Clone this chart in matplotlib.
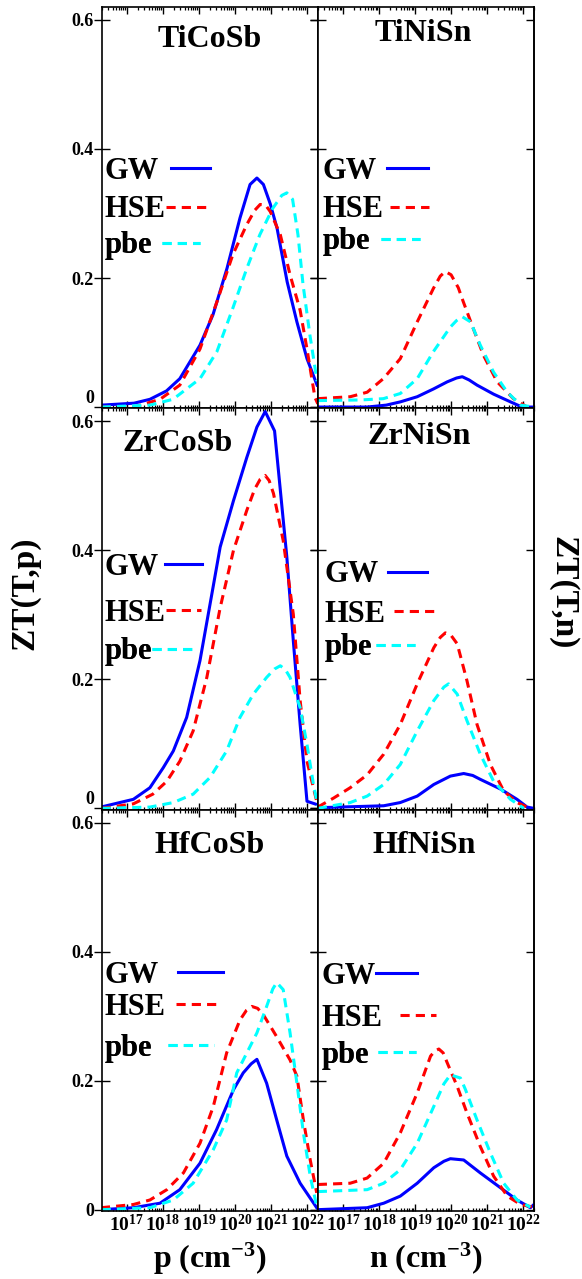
import numpy as np
import matplotlib
matplotlib.use("Agg")
import matplotlib.pyplot as plt
from matplotlib.ticker import FixedLocator, FuncFormatter, LogLocator, NullFormatter

plt.rcParams['font.family'] = ['Liberation Serif', 'DejaVu Serif']
plt.rcParams['font.weight'] = 'bold'
plt.rcParams['mathtext.fontset'] = 'custom'
plt.rcParams['mathtext.rm'] = 'Liberation Serif:bold'
plt.rcParams['mathtext.it'] = 'Liberation Serif:bold'
plt.rcParams['mathtext.bf'] = 'Liberation Serif:bold'

# ---------------- data (x given as log10 of carrier concentration) ----------------
materials = ["TiCoSb", "TiNiSn", "ZrCoSb", "ZrNiSn", "HfCoSb", "HfNiSn"]
methods = ["GW", "HSE", "pbe"]

# TiCoSb (p-type)
ticosb_gw_x = [16.3, 17.2, 17.64, 18.1, 18.47, 19.03, 19.39, 19.78, 20.14, 20.42, 20.61, 20.79, 20.98, 21.17, 21.45, 21.72, 22.0, 22.28]
ticosb_gw_y = [0.003, 0.006, 0.012, 0.025, 0.044, 0.096, 0.143, 0.215, 0.293, 0.345, 0.355, 0.345, 0.315, 0.277, 0.194, 0.132, 0.075, 0.034]
ticosb_hse_x = [16.3, 17.2, 17.92, 18.47, 19.03, 19.5, 19.94, 20.33, 20.55, 20.7, 20.85, 20.98, 21.26, 21.53, 21.81, 22.0, 22.22, 22.3]
ticosb_hse_y = [0.0, 0.0, 0.012, 0.034, 0.09, 0.163, 0.236, 0.283, 0.305, 0.314, 0.313, 0.303, 0.267, 0.205, 0.15, 0.09, 0.015, 0.005]
ticosb_pbe_x = [16.3, 17.64, 18.28, 19.03, 19.5, 19.94, 20.33, 20.69, 21.05, 21.3, 21.44, 21.6, 21.75, 21.89, 22.08, 22.28]
ticosb_pbe_y = [0.0, 0.003, 0.012, 0.044, 0.086, 0.153, 0.215, 0.267, 0.308, 0.328, 0.332, 0.322, 0.267, 0.19, 0.112, 0.04]

# TiNiSn (n-type)
tinisn_gw_x = [16.3, 17.67, 18.2, 18.59, 19.06, 19.51, 19.89, 20.15, 20.31, 20.5, 20.72, 21.18, 21.65, 21.97, 22.3]
tinisn_gw_y = [0.0, 0.0, 0.003, 0.008, 0.016, 0.028, 0.039, 0.045, 0.047, 0.042, 0.034, 0.02, 0.008, 0.0, 0.0]
tinisn_hse_x = [16.3, 17.2, 17.67, 18.12, 18.59, 19.06, 19.51, 19.7, 19.84, 20.0, 20.2, 20.34, 20.58, 20.9, 21.28, 21.73, 22.11, 22.3]
tinisn_hse_y = [0.013, 0.016, 0.023, 0.044, 0.075, 0.132, 0.184, 0.203, 0.21, 0.205, 0.185, 0.163, 0.127, 0.08, 0.039, 0.013, 0.0, 0.0]
tinisn_pbe_x = [16.3, 17.5, 18.12, 18.59, 19.06, 19.51, 19.98, 20.15, 20.31, 20.54, 20.81, 21.18, 21.56, 21.93, 22.3]
tinisn_pbe_y = [0.01, 0.011, 0.013, 0.021, 0.044, 0.086, 0.124, 0.134, 0.14, 0.132, 0.096, 0.054, 0.023, 0.003, 0.0]

# ZrCoSb (p-type)
zrcosb_gw_x = [16.28, 17.18, 17.64, 18.01, 18.29, 18.66, 19.03, 19.4, 19.59, 19.96, 20.33, 20.61, 20.84, 21.1, 21.44, 21.62, 21.81, 22.0, 22.27]
zrcosb_gw_y = [0.002, 0.014, 0.032, 0.063, 0.089, 0.141, 0.229, 0.345, 0.405, 0.477, 0.544, 0.591, 0.615, 0.585, 0.39, 0.26, 0.13, 0.011, 0.006]
zrcosb_hse_x = [16.3, 17.18, 17.72, 18.11, 18.47, 18.84, 19.22, 19.59, 19.96, 20.33, 20.55, 20.7, 20.84, 20.95, 21.07, 21.34, 21.62, 21.81, 22.0, 22.27]
zrcosb_hse_y = [0.0, 0.007, 0.022, 0.042, 0.073, 0.12, 0.203, 0.311, 0.4, 0.462, 0.495, 0.51, 0.516, 0.508, 0.488, 0.415, 0.301, 0.167, 0.073, 0.011]
zrcosb_pbe_x = [16.3, 17.64, 18.29, 18.84, 19.31, 19.77, 20.14, 20.51, 20.88, 21.1, 21.26, 21.4, 21.53, 21.81, 22.0, 22.18, 22.3]
zrcosb_pbe_y = [0.0, 0.002, 0.009, 0.022, 0.048, 0.089, 0.141, 0.177, 0.203, 0.216, 0.221, 0.215, 0.203, 0.156, 0.099, 0.037, 0.004]

# ZrNiSn (n-type)
zrnisn_gw_x = [16.3, 18.13, 18.59, 19.06, 19.52, 19.98, 20.35, 20.6, 20.81, 21.37, 21.83, 22.11, 22.3]
zrnisn_gw_y = [0.001, 0.004, 0.009, 0.019, 0.037, 0.05, 0.054, 0.051, 0.045, 0.03, 0.014, 0.002, 0.0]
zrnisn_hse_x = [16.3, 16.74, 17.2, 17.67, 18.13, 18.59, 19.06, 19.52, 19.7, 19.84, 20.0, 20.17, 20.44, 20.72, 21.09, 21.46, 21.83, 22.11]
zrnisn_hse_y = [0.002, 0.016, 0.032, 0.052, 0.084, 0.13, 0.193, 0.249, 0.265, 0.272, 0.268, 0.255, 0.198, 0.13, 0.068, 0.027, 0.009, 0.002]
zrnisn_pbe_x = [16.3, 17.2, 17.67, 18.13, 18.59, 19.06, 19.52, 19.8, 19.93, 20.17, 20.44, 20.81, 21.18, 21.65, 22.02]
zrnisn_pbe_y = [0.0, 0.009, 0.019, 0.037, 0.068, 0.12, 0.167, 0.188, 0.193, 0.177, 0.136, 0.084, 0.042, 0.014, 0.0]

# HfCoSb (p-type)
hfcosb_gw_x = [16.28, 17.18, 17.92, 18.47, 19.03, 19.49, 19.96, 20.23, 20.45, 20.61, 20.88, 21.16, 21.44, 21.81, 22.27]
hfcosb_gw_y = [0.0, 0.003, 0.01, 0.031, 0.072, 0.124, 0.186, 0.212, 0.226, 0.233, 0.196, 0.139, 0.083, 0.041, 0.003]
hfcosb_hse_x = [16.28, 17.18, 17.64, 18.11, 18.57, 19.03, 19.4, 19.77, 20.14, 20.32, 20.47, 20.63, 20.79, 21.16, 21.53, 21.72, 21.9, 22.09, 22.27]
hfcosb_hse_y = [0.003, 0.008, 0.015, 0.031, 0.057, 0.103, 0.16, 0.243, 0.294, 0.309, 0.315, 0.312, 0.302, 0.268, 0.232, 0.207, 0.139, 0.077, 0.026]
hfcosb_pbe_x = [16.3, 17.64, 18.29, 18.84, 19.4, 19.77, 20.05, 20.33, 20.61, 20.88, 21.05, 21.16, 21.34, 21.53, 21.72, 21.9, 22.09, 22.27]
hfcosb_pbe_y = [0.0, 0.003, 0.015, 0.041, 0.093, 0.139, 0.212, 0.243, 0.274, 0.315, 0.342, 0.352, 0.341, 0.274, 0.196, 0.119, 0.052, 0.005]

# HfNiSn (n-type)
hfnisn_gw_x = [16.3, 17.67, 18.13, 18.59, 19.06, 19.52, 19.8, 19.98, 20.35, 20.81, 21.37, 21.83, 22.2, 22.3]
hfnisn_gw_y = [0.0, 0.003, 0.01, 0.021, 0.041, 0.065, 0.075, 0.079, 0.077, 0.057, 0.034, 0.015, 0.003, 0.008]
hfnisn_hse_x = [16.3, 17.2, 17.67, 18.13, 18.59, 19.06, 19.43, 19.55, 19.66, 19.78, 19.89, 20.17, 20.44, 20.81, 21.18, 21.56, 21.93, 22.28]
hfnisn_hse_y = [0.039, 0.041, 0.049, 0.072, 0.119, 0.181, 0.238, 0.246, 0.249, 0.243, 0.228, 0.191, 0.15, 0.098, 0.052, 0.021, 0.008, 0.004]
hfnisn_pbe_x = [16.3, 17.67, 18.13, 18.59, 19.06, 19.52, 19.8, 19.98, 20.26, 20.4, 20.72, 21.09, 21.46, 21.83, 22.2]
hfnisn_pbe_y = [0.028, 0.031, 0.041, 0.062, 0.103, 0.16, 0.195, 0.209, 0.204, 0.186, 0.139, 0.088, 0.041, 0.015, 0.004]

series = {
    "TiCoSb": [(ticosb_gw_x, ticosb_gw_y), (ticosb_hse_x, ticosb_hse_y), (ticosb_pbe_x, ticosb_pbe_y)],
    "TiNiSn": [(tinisn_gw_x, tinisn_gw_y), (tinisn_hse_x, tinisn_hse_y), (tinisn_pbe_x, tinisn_pbe_y)],
    "ZrCoSb": [(zrcosb_gw_x, zrcosb_gw_y), (zrcosb_hse_x, zrcosb_hse_y), (zrcosb_pbe_x, zrcosb_pbe_y)],
    "ZrNiSn": [(zrnisn_gw_x, zrnisn_gw_y), (zrnisn_hse_x, zrnisn_hse_y), (zrnisn_pbe_x, zrnisn_pbe_y)],
    "HfCoSb": [(hfcosb_gw_x, hfcosb_gw_y), (hfcosb_hse_x, hfcosb_hse_y), (hfcosb_pbe_x, hfcosb_pbe_y)],
    "HfNiSn": [(hfnisn_gw_x, hfnisn_gw_y), (hfnisn_hse_x, hfnisn_hse_y), (hfnisn_pbe_x, hfnisn_pbe_y)],
}

y_ticks = [0, 0.2, 0.4, 0.6]
y_ticklabels = ["0", "0.2", "0.4", "0.6"]
x_major_exp = [17, 18, 19, 20, 21, 22]

# ---------------- styles / layout ----------------
colors = ["#0000ff", "#ff0000", "#00ffff"]
styles = ["-", (0, (3, 2)), (0, (3, 2))]
title_pos = {"TiCoSb": (0.5, 0.92), "TiNiSn": (0.49, 0.935), "ZrCoSb": (0.35, 0.912),
             "ZrNiSn": (0.47, 0.93), "HfCoSb": (0.5, 0.91), "HfNiSn": (0.49, 0.91)}
# per panel: text left x, line y per entry, pad (em) per entry, handle length (em) per entry
legend_left = {"TiCoSb": 0.015, "TiNiSn": 0.02, "ZrCoSb": 0.015,
               "ZrNiSn": 0.03, "HfCoSb": 0.015, "HfNiSn": 0.019}
legend_y = {"TiCoSb": [0.59, 0.495, 0.405], "TiNiSn": [0.59, 0.495, 0.415],
            "ZrCoSb": [0.603, 0.49, 0.393], "ZrNiSn": [0.585, 0.487, 0.403],
            "HfCoSb": [0.587, 0.507, 0.405], "HfNiSn": [0.585, 0.48, 0.388]}
legend_pad = {"TiCoSb": [0.4, 0.0, 0.3], "TiNiSn": [0.36, 0.24, 0.36],
              "ZrCoSb": [0.2, 0.0, 0.0], "ZrNiSn": [0.3, 0.3, 0.14],
              "HfCoSb": [0.6, 0.33, 0.52], "HfNiSn": [0.0, 0.55, 0.27]}
legend_len = {"TiCoSb": [1.25, 1.3, 1.25], "TiNiSn": [1.33, 1.25, 1.3],
              "ZrCoSb": [1.2, 1.15, 1.37], "ZrNiSn": [1.3, 1.28, 1.28],
              "HfCoSb": [1.5, 1.47, 1.5], "HfNiSn": [1.34, 1.2, 1.25]}

fig, axes = plt.subplots(3, 2, figsize=(5.82, 12.79), dpi=100)
fig.subplots_adjust(left=0.1747, right=0.9175, top=0.9945, bottom=0.0532, hspace=0, wspace=0)

def xfmt(v, pos):
    e = int(round(np.log10(v)))
    return r"$\mathbf{10^{%d}}$" % e

leg_prop = {"family": "Liberation Serif", "weight": "bold", "size": 22}

for idx, name in enumerate(materials):
    r, c = divmod(idx, 2)
    ax = axes[r, c]
    handles = []
    for (xs, ys), col, ls, lab in zip(series[name], colors, styles, methods):
        h, = ax.plot(10.0 ** np.array(xs), ys, color=col, linestyle=ls, lw=2.2, label=lab)
        handles.append(h)
    ax.set_xscale("log")
    ax.set_xlim(2e16, 2e22)
    ax.set_ylim(-0.002, 0.62)
    for s in ax.spines.values():
        s.set_linewidth(1.2)
    ax.xaxis.set_major_locator(FixedLocator([10.0 ** e for e in x_major_exp]))
    ax.xaxis.set_minor_locator(LogLocator(base=10, subs=np.arange(2, 10), numticks=20))
    ax.xaxis.set_minor_formatter(NullFormatter())
    ax.tick_params(axis="x", which="both", direction="in", top=True, bottom=True)
    ax.tick_params(axis="x", which="major", length=5, width=1.0, labelsize=14, pad=2)
    ax.tick_params(axis="x", which="minor", length=2.5, width=0.9)
    if r == 2:
        ax.xaxis.set_major_formatter(FuncFormatter(xfmt))
    else:
        ax.tick_params(axis="x", labelbottom=False)
    ax.set_yticks(y_ticks)
    ax.tick_params(axis="y", which="major", direction="inout", length=11, width=1.0,
                   left=True, right=False, labelsize=13, pad=0)
    sec = ax.secondary_yaxis("right")
    sec.set_yticks(y_ticks)
    sec.tick_params(axis="y", direction="in", length=6, width=1.0, labelright=False)
    sec.spines["right"].set_linewidth(1.2)
    if c == 0:
        ax.set_yticklabels(y_ticklabels)
        if r < 2:
            # keep the "0" label clear of the "0.6" label of the panel below
            ax.get_yticklabels()[0].set_verticalalignment("bottom")
    else:
        ax.tick_params(axis="y", labelleft=False)
    tx, ty = title_pos[name]
    ax.text(tx, ty, name, transform=ax.transAxes, ha="center", va="center",
            fontsize=23, fontweight="bold")
    for k, h in enumerate(handles):
        leg = ax.legend(handles=[h], loc="center left",
                        bbox_to_anchor=(legend_left[name], legend_y[name][k]),
                        markerfirst=False, frameon=False,
                        handlelength=legend_len[name][k], handletextpad=legend_pad[name][k],
                        borderpad=0, borderaxespad=0, prop=leg_prop)
        ax.add_artist(leg)

axes[2, 0].set_xlabel(r"p (cm$^{\mathbf{-3}}$)", fontsize=23, fontweight="bold", labelpad=4)
axes[2, 1].set_xlabel(r"n (cm$^{\mathbf{-3}}$)", fontsize=23, fontweight="bold", labelpad=4)
fig.text(0.043, 0.5364, "ZT(T,p)", rotation=90, ha="center", va="center", fontsize=24, fontweight="bold")
fig.text(0.967, 0.5364, "ZT(T,n)", rotation=270, ha="center", va="center", fontsize=24, fontweight="bold")

fig.savefig("out.png", dpi=100)
